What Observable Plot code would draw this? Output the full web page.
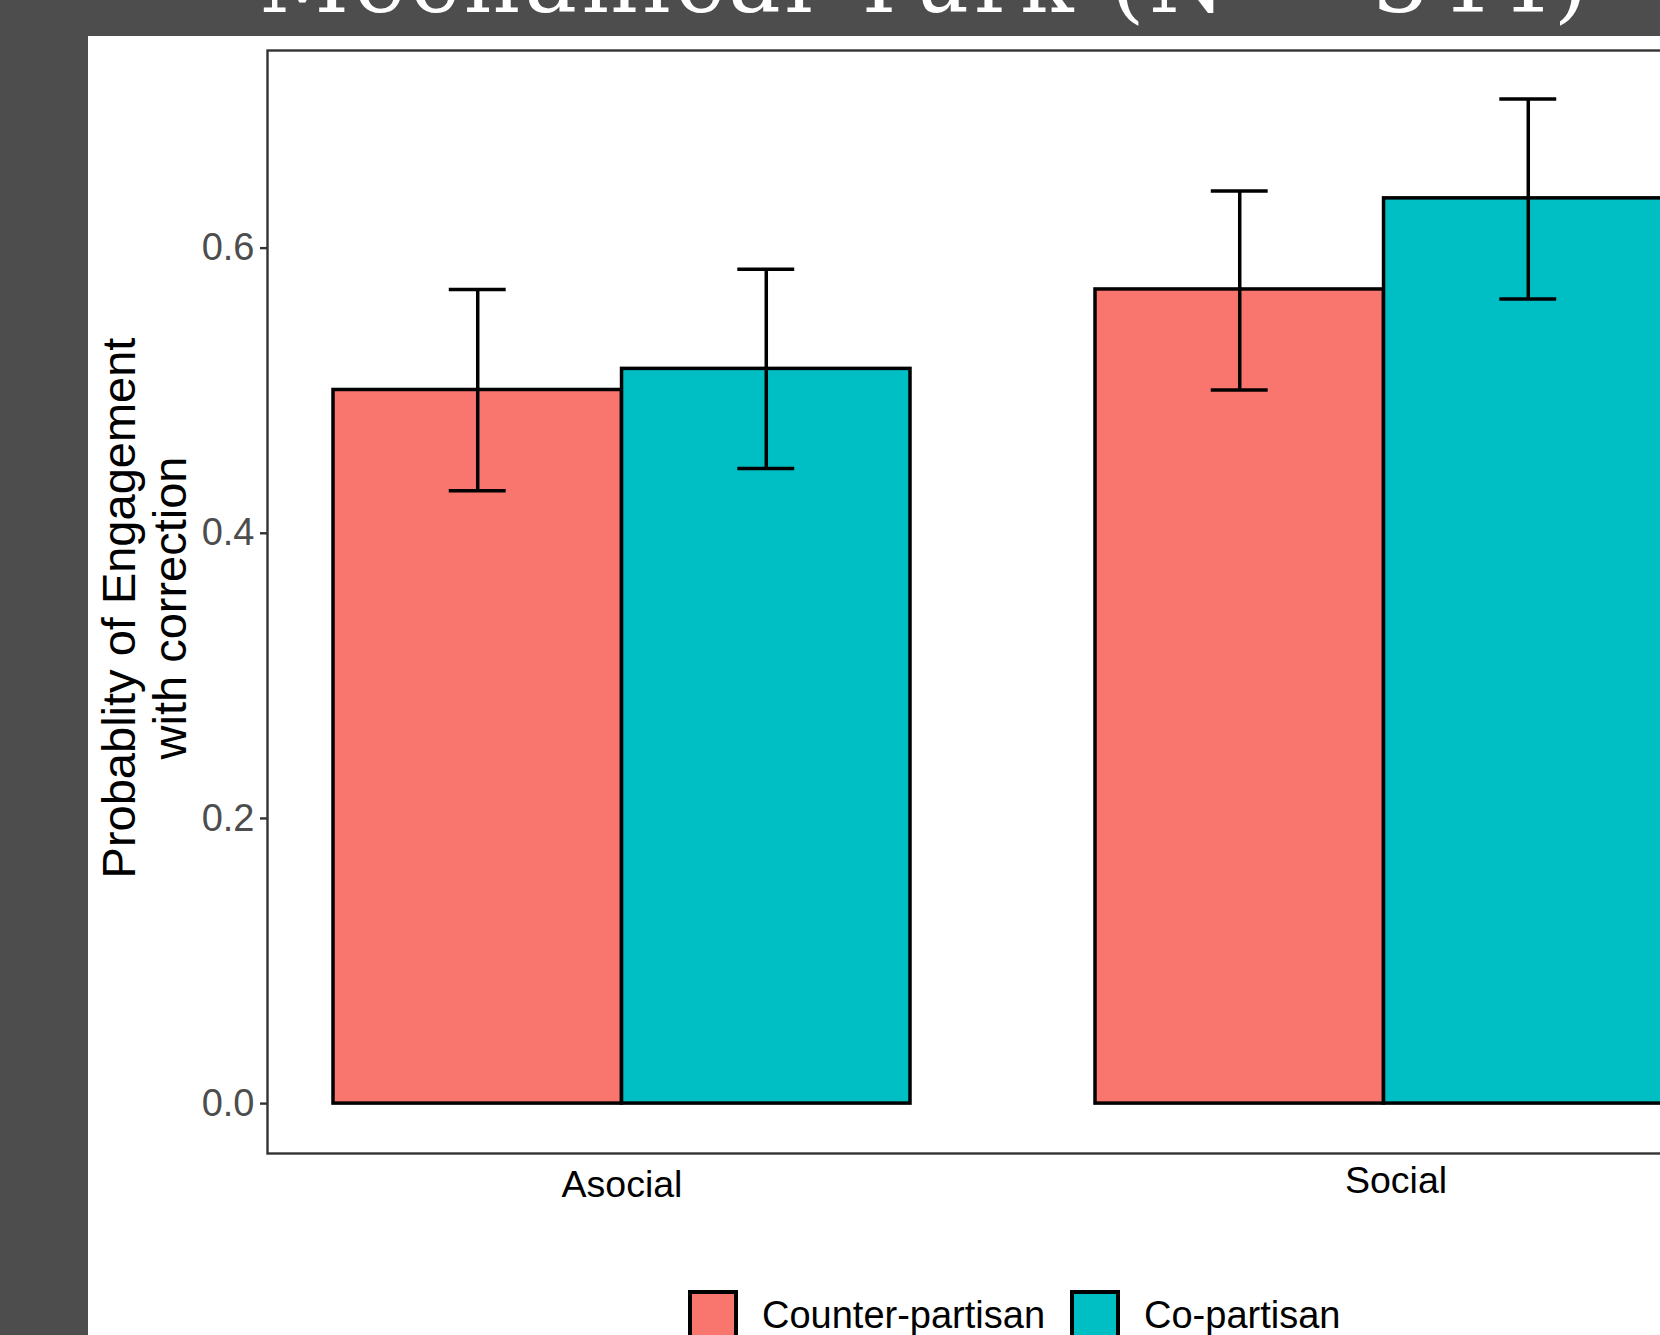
<!DOCTYPE html>
<html><head><meta charset="utf-8">
<script src="https://cdn.jsdelivr.net/npm/d3@7"></script>
<script src="https://cdn.jsdelivr.net/npm/@observablehq/plot@0.6"></script>
<style>
html,body{margin:0;padding:0;width:1660px;height:1335px;overflow:hidden;background:#4d4d4d;}
#title{position:absolute;left:0;top:0;width:1660px;height:36px;overflow:hidden;}
#panel{position:absolute;left:88px;top:36px;width:1572px;height:1299px;background:#fff;overflow:hidden;font-family:"Liberation Sans",Arial,sans-serif;}
#chart{position:absolute;left:0;top:0;width:1700px;}
#chart svg{max-width:none !important;}
#ytitle{position:absolute;left:56px;top:572px;transform:translate(-50%,-50%) rotate(-90deg);white-space:nowrap;text-align:center;font-size:47px;line-height:51px;color:#000;}
#legend{position:absolute;left:600px;top:1254px;display:flex;align-items:center;white-space:nowrap;}
.sw{width:42px;height:42px;border:4px solid #000;flex:none;}
.lab{font-size:38px;line-height:50px;color:#000;}
</style></head>
<body>
<div id="title"></div>
<div id="panel">
  <div id="chart"></div>
  <div id="ytitle">Probablity of Engagement<br>with correction</div>
  <div id="legend"></div>
</div>
<script>
// ---- data ----
const titleText = "Mechanical Turk (N = 344)";
const categories = ["Asocial", "Social"];
const groups = ["Counter-partisan", "Co-partisan"];
const counterMean = [0.5005, 0.5710];
const counterLow  = [0.4299, 0.5005];
const counterHigh = [0.5710, 0.6400];
const coMean = [0.5153, 0.6349];
const coLow  = [0.4455, 0.5643];
const coHigh = [0.5851, 0.7046];
const yTicks = [0, 0.2, 0.4, 0.6];
const colors = ["#F8766D", "#00BFC4"];

// ---- title (cropped slide heading) ----
const ts = d3.select("#title").append("svg").attr("width", 1660).attr("height", 36);
ts.append("text").attr("x", 259).attr("y", 12)
  .attr("textLength", 1329).attr("lengthAdjust", "spacing")
  .attr("font-family", "'DejaVu Serif','Liberation Serif',serif").attr("font-size", 88)
  .attr("fill", "#fff").text(titleText);

// ---- table ----
const rows = categories.flatMap((c, i) => [
  {category: c, group: groups[0], mean: counterMean[i], low: counterLow[i], high: counterHigh[i]},
  {category: c, group: groups[1], mean: coMean[i], low: coLow[i], high: coHigh[i]}
]);
const g0 = rows.filter(d => d.group === groups[0]);
const g1 = rows.filter(d => d.group === groups[1]);

// ---- layout ----
const W = 1700, H = 1200, mL = 179, mR = 50, mT = 14, mB = 83;
const pIn = 0.243, pOut = 0.0863;
const step = (W - mL - mR) / (categories.length - pIn + 2 * pOut);
const bw = step * (1 - pIn);
const half = bw / 2, off = bw / 4;
const capW = 57, capInset = (bw - capW) / 2;
const lw = 3.5;

const chart = Plot.plot({
  width: W, height: H,
  marginLeft: mL, marginRight: mR, marginTop: mT, marginBottom: mB,
  style: {fontFamily: "'Liberation Sans',Arial,sans-serif", background: "transparent", overflow: "visible", maxWidth: "none"},
  x: {domain: categories, paddingInner: pIn, paddingOuter: pOut, align: 0.5},
  y: {domain: [-0.035, 0.7386]},
  color: {domain: groups, range: colors},
  marks: [
    Plot.frame({stroke: "#333333", strokeWidth: 2.4}),
    Plot.barY(g0, {x: "category", y1: 0, y2: "mean", fill: "group", stroke: "#000", strokeWidth: lw, strokeLinejoin: "miter", insetRight: half}),
    Plot.barY(g1, {x: "category", y1: 0, y2: "mean", fill: "group", stroke: "#000", strokeWidth: lw, strokeLinejoin: "miter", insetLeft: half}),
    Plot.ruleX(g0, {x: "category", y1: "low", y2: "high", dx: -off, stroke: "#000", strokeWidth: lw}),
    Plot.ruleX(g1, {x: "category", y1: "low", y2: "high", dx: off, stroke: "#000", strokeWidth: lw}),
    Plot.tickY(g0, {x: "category", y: "high", dx: -off, insetLeft: capInset, insetRight: capInset, stroke: "#000", strokeWidth: lw}),
    Plot.tickY(g0, {x: "category", y: "low", dx: -off, insetLeft: capInset, insetRight: capInset, stroke: "#000", strokeWidth: lw}),
    Plot.tickY(g1, {x: "category", y: "high", dx: off, insetLeft: capInset, insetRight: capInset, stroke: "#000", strokeWidth: lw}),
    Plot.tickY(g1, {x: "category", y: "low", dx: off, insetLeft: capInset, insetRight: capInset, stroke: "#000", strokeWidth: lw}),
    Plot.axisY({ticks: yTicks, tickFormat: d3.format(".1f"), tickSize: 7, tickPadding: 6, stroke: "#333333", strokeWidth: 2.4, fill: "#4d4d4d", fontSize: 38, label: null}),
    Plot.axisX({ticks: [categories[0]], tickSize: 0, tickPadding: 17, fill: "#000", fontSize: 37.5, label: null}),
    Plot.axisX({ticks: [categories[1]], tickSize: 0, tickPadding: 13, dx: 12, fill: "#000", fontSize: 37.5, label: null})
  ]
});
document.getElementById("chart").appendChild(chart);

// ---- legend ----
const leg = d3.select("#legend");
groups.forEach((g, i) => {
  leg.append("div").attr("class", "sw").style("background", colors[i]).style("margin-left", i ? "25px" : "0");
  leg.append("div").attr("class", "lab").style("margin-left", "24px").text(g);
});
</script>
</body></html>
